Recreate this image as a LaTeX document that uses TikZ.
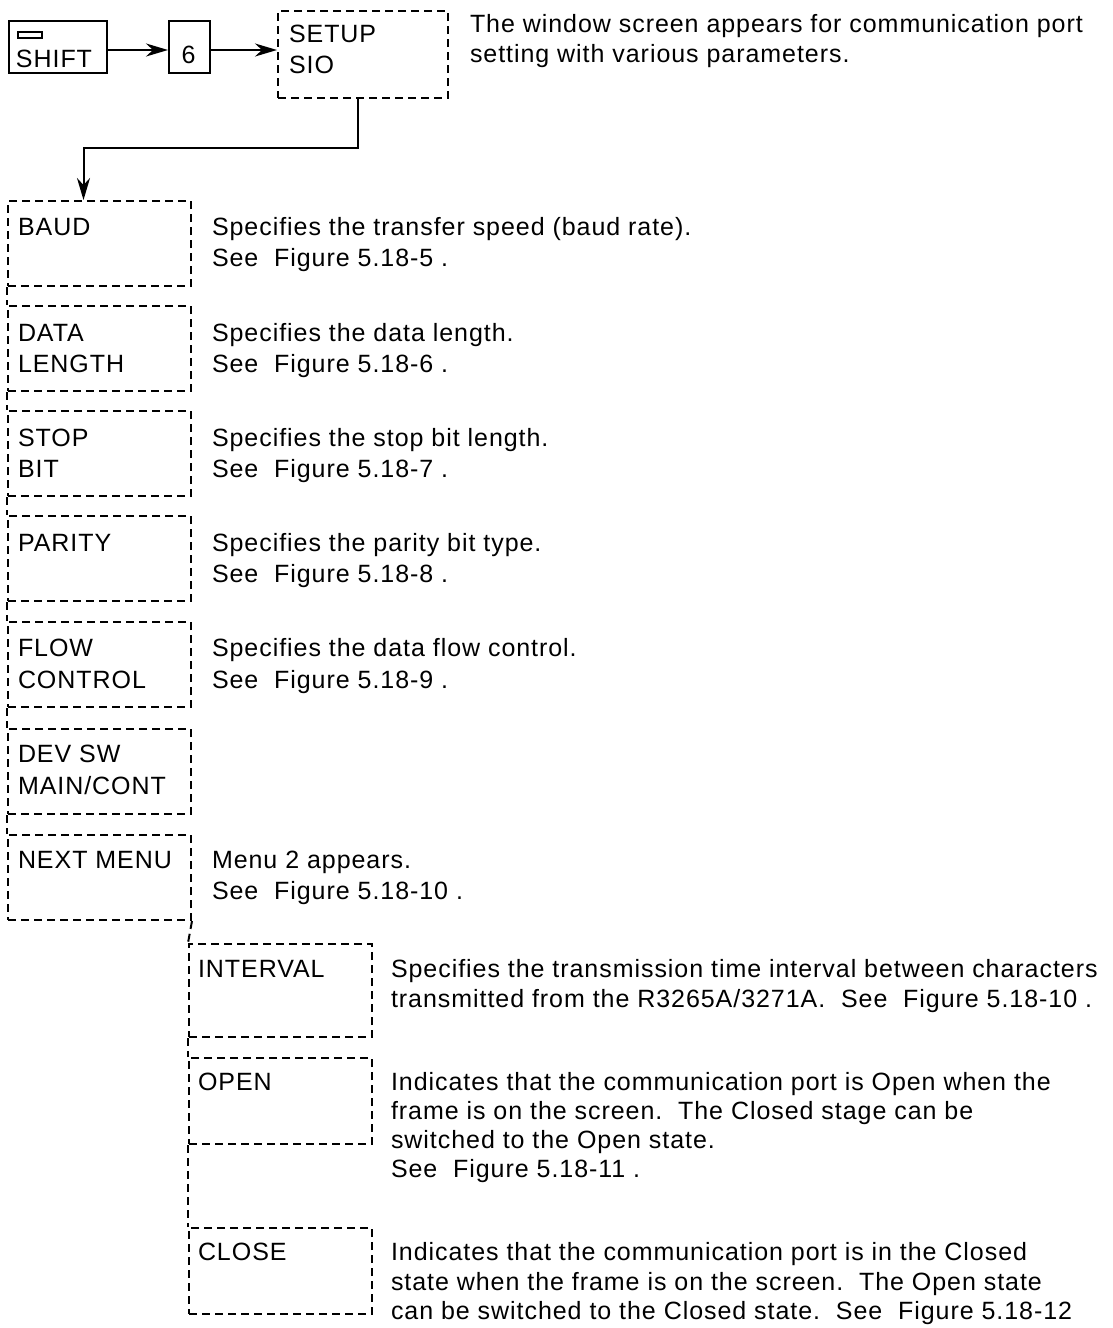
\documentclass[tikz,border=0pt]{standalone}
\usepackage{fontspec}
\setmainfont{Liberation Sans}[LetterSpace=3.8]
\usetikzlibrary{arrows.meta}
\begin{document}
\begin{tikzpicture}[x=1pt,y=-1pt,
  font=\fontsize{25}{30}\selectfont,
  txt/.style={anchor=base west,inner sep=0pt,outer sep=0pt},
  dbox/.style={draw,dash pattern=on 8pt off 5pt,line width=2pt,anchor=north west,inner sep=0pt,minimum width=183pt,minimum height=85pt},
  sbox/.style={dbox,minimum width=183pt,minimum height=86pt},
  kbox/.style={draw,line width=2pt,anchor=north west,inner sep=0pt},
  dlink/.style={dash pattern=on 8pt off 5pt,line width=2pt},
  arr/.style={line width=2pt,-{Stealth[length=22pt,width=13pt,inset=7pt]}}]
\useasboundingbox (0,0) rectangle (1113,1328);
% top row
\node[kbox,minimum width=98pt,minimum height=52pt] (shift) at (8,20) {};
\draw[line width=1.5pt] (18,32) rectangle (42,38);
\node[txt] (shiftT) at (16,67) {SHIFT};
\node[kbox,minimum width=41pt,minimum height=52pt] (six) at (168,20) {};
\node[anchor=base,inner sep=0pt] (sixT) at (188.5,63) {6};
\node[dbox,minimum width=170pt,minimum height=87pt] (setup) at (277,10) {};
\node[txt] (setupA) at (289,42) {SETUP};
\node[txt] (setupB) at (289,73) {SIO};
\node[txt] (topA) at (470,32) {The window screen appears for communication port};
\node[txt] (topB) at (470,62) {setting with various parameters.};
% main menu
\node[dbox] (baud) at (7,200) {};
\node[dbox] (datalen) at (7,305) {};
\node[dbox] (stopbit) at (7,410) {};
\node[dbox] (parity) at (7,515) {};
\node[dbox] (flow) at (7,621) {};
\node[dbox] (devsw) at (7,728) {};
\node[dbox] (nextm) at (7,834) {};
\draw[arr] ([yshift=-3pt]shift.east) -- ([yshift=-3pt]six.west);
\draw[arr] ([yshift=-3pt]six.east) -- ([yshift=-3pt]six.east -| setup.west);
\draw[arr] ([xshift=-5pt]setup.south) -- ++(0,49) coordinate (bend) -| ([xshift=-16pt]baud.north);
\foreach \a/\b in {baud/datalen,datalen/stopbit,stopbit/parity,parity/flow,flow/devsw,devsw/nextm}
  \draw[dlink] (\a.south west) -- (\b.north west);
\node[txt] (t1) at (18,235) {BAUD};
\node[txt] (d1a) at (212,235) {Specifies the transfer speed (baud rate).};
\node[txt] (d1b) at (212,266) {See\ \ Figure 5.18-5 .};
\node[txt] (t2a) at (18,341) {DATA};
\node[txt] (t2b) at (18,372) {LENGTH};
\node[txt] (d2a) at (212,341) {Specifies the data length.};
\node[txt] (d2b) at (212,372) {See\ \ Figure 5.18-6 .};
\node[txt] (t3a) at (18,446) {STOP};
\node[txt] (t3b) at (18,477) {BIT};
\node[txt] (d3a) at (212,446) {Specifies the stop bit length.};
\node[txt] (d3b) at (212,477) {See\ \ Figure 5.18-7 .};
\node[txt] (t4) at (18,551) {PARITY};
\node[txt] (d4a) at (212,551) {Specifies the parity bit type.};
\node[txt] (d4b) at (212,582) {See\ \ Figure 5.18-8 .};
\node[txt] (t5a) at (18,656) {FLOW};
\node[txt] (t5b) at (18,688) {CONTROL};
\node[txt] (d5a) at (212,656) {Specifies the data flow control.};
\node[txt] (d5b) at (212,688) {See\ \ Figure 5.18-9 .};
\node[txt] (t6a) at (18,762) {DEV SW};
\node[txt] (t6b) at (18,794) {MAIN/CONT};
\node[txt] (t7) at (18,868) {NEXT MENU};
\node[txt] (d7a) at (212,868) {Menu 2 appears.};
\node[txt] (d7b) at (212,899) {See\ \ Figure 5.18-10 .};
% sub menu
\node[sbox,minimum height=93pt] (interval) at (188,943) {};
\node[sbox] (open) at (188,1057) {};
\node[sbox] (close) at (188,1227) {};
\draw[dlink] (nextm.south east) -- (interval.north west);
\draw[dlink] (interval.south west) -- (open.north west);
\draw[dlink] (open.south west) -- (close.north west);
\node[txt] (s1) at (198,977) {INTERVAL};
\node[txt] (e1a) at (391,977) {Specifies the transmission time interval between characters};
\node[txt] (e1b) at (391,1007) {transmitted from the R3265A/3271A.\ \ See\ \ Figure 5.18-10 .};
\node[txt] (s2) at (198,1090) {OPEN};
\node[txt] (e2a) at (391,1090) {Indicates that the communication port is Open when the};
\node[txt] (e2b) at (391,1119) {frame is on the screen.\ \ The Closed stage can be};
\node[txt] (e2c) at (391,1148) {switched to the Open state.};
\node[txt] (e2d) at (391,1177) {See\ \ Figure 5.18-11 .};
\node[txt] (s3) at (198,1260) {CLOSE};
\node[txt] (e3a) at (391,1260) {Indicates that the communication port is in the Closed};
\node[txt] (e3b) at (391,1290) {state when the frame is on the screen.\ \ The Open state};
\node[txt] (e3c) at (391,1319) {can be switched to the Closed state.\ \ See\ \ Figure 5.18-12};
\end{tikzpicture}
\end{document}
